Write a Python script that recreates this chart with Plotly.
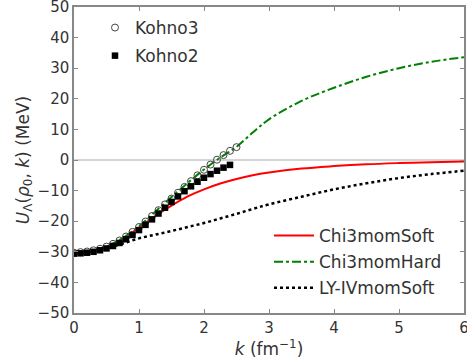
import plotly.graph_objects as go

# Line curves
k_line = [0, 0.25, 0.5, 0.75, 1.0, 1.25, 1.5, 1.75, 2.0, 2.25, 2.5, 2.75, 3.0, 3.5, 4.0, 4.5, 5.0, 5.5, 6.0]
chi3_soft = [-30.4, -30.0, -28.5, -25.8, -22.1, -18.3, -14.9, -11.9, -9.6, -7.7, -6.2, -5.0, -4.1, -2.8, -2.0, -1.4, -1.0, -0.7, -0.5]
chi3_hard = [-30.4, -29.9, -28.3, -25.5, -21.6, -16.9, -12.1, -7.5, -3.1, 0.8, 4.3, 9.0, 13.3, 19.3, 23.6, 27.2, 30.0, 32.1, 33.6]
lyiv_soft = [-30.4, -30.0, -28.9, -27.3, -25.6, -24.4, -23.2, -21.9, -20.6, -19.1, -17.6, -16.0, -14.5, -12.0, -9.6, -7.6, -5.9, -4.6, -3.5]

# Kohno points
k_kohno3 = [0.0, 0.1, 0.2, 0.3, 0.4, 0.5, 0.6, 0.7, 0.8, 0.9, 1.0, 1.1, 1.2, 1.3, 1.4, 1.5, 1.6, 1.7, 1.8, 1.9, 2.0, 2.1, 2.2, 2.3, 2.4, 2.5]
kohno3 = [-30.3, -30.1, -29.9, -29.5, -29.0, -28.3, -27.4, -26.3, -25.0, -23.5, -21.9, -20.1, -18.3, -16.4, -14.5, -12.6, -10.7, -8.8, -6.9, -5.0, -3.2, -1.5, 0.1, 1.6, 3.0, 4.2]
k_kohno2 = [0.0, 0.1, 0.2, 0.3, 0.4, 0.5, 0.6, 0.7, 0.8, 0.9, 1.0, 1.1, 1.2, 1.3, 1.4, 1.5, 1.6, 1.7, 1.8, 1.9, 2.0, 2.1, 2.2, 2.3, 2.4]
kohno2 = [-30.6, -30.5, -30.3, -30.0, -29.5, -28.9, -28.1, -27.1, -25.9, -24.5, -22.9, -21.2, -19.4, -17.5, -15.6, -13.7, -11.9, -10.2, -8.6, -7.1, -5.8, -4.6, -3.5, -2.5, -1.6]

x_ticks = [0, 1, 2, 3, 4, 5, 6]
y_ticks = [-50, -40, -30, -20, -10, 0, 10, 20, 30, 40, 50]

FONT = "DejaVu Sans"
TXT = "#333333"
fig = go.Figure()

fig.add_hline(y=0, line=dict(color="#aaaaaa", width=1), layer="below")

fig.add_trace(go.Scatter(x=k_line, y=chi3_soft, mode="lines", name="Chi3momSoft", legendgroup="a",
                         line=dict(color="#ff0000", width=2, shape="spline"), legend="legend2"))
fig.add_trace(go.Scatter(x=k_line, y=chi3_hard, mode="lines", name="Chi3momHard", legendgroup="b",
                         line=dict(color="#008000", width=2, dash="dashdot", shape="spline"), legend="legend2"))
fig.add_trace(go.Scatter(x=k_line, y=lyiv_soft, mode="lines", name="LY-IVmomSoft", legendgroup="c",
                         line=dict(color="#000000", width=2.5, dash="dot", shape="spline"), legend="legend2"))

fig.add_trace(go.Scatter(x=k_kohno3, y=kohno3, mode="markers", name="Kohno3", legendgroup="d",
                         marker=dict(symbol="circle-open", size=7, color="#444444", line=dict(width=1)),
                         legend="legend"))
fig.add_trace(go.Scatter(x=k_kohno2, y=kohno2, mode="markers", name="Kohno2", legendgroup="e",
                         marker=dict(symbol="square", size=6.5, color="#000000"),
                         legend="legend"))

axis_common = dict(showgrid=False, zeroline=False, showline=True, linecolor="#888888", linewidth=1.5,
                   mirror="ticks", ticks="inside", ticklen=4, tickcolor="#888888", automargin=False,
                   ticklabeloverflow="allow",
                   tickfont=dict(family=FONT, size=15, color=TXT))

fig.update_layout(
    width=467, height=361,
    margin=dict(l=74, r=3, t=7, b=48, autoexpand=False),
    paper_bgcolor="white", plot_bgcolor="white",
    font=dict(family=FONT, size=15, color=TXT),
    xaxis=dict(range=[0, 6], tickvals=x_ticks,
               title=dict(text="<i>k</i> (fm<sup>−1</sup>)", font=dict(family=FONT, size=17, color=TXT), standoff=0),
               **axis_common),
    yaxis=dict(range=[-50, 50], tickvals=y_ticks,
               title=dict(text="<i>U</i><sub>Λ</sub>(<i>ρ</i><sub>0</sub>, <i>k</i>) (MeV)", font=dict(family=FONT, size=17, color=TXT), standoff=4),
               **axis_common),
    legend=dict(x=(95 - 74) / 390, y=(313 - 10) / 306, xanchor="left", yanchor="top", bgcolor="rgba(0,0,0,0)",
                font=dict(family=FONT, size=17, color=TXT), itemwidth=30, tracegroupgap=3,
                traceorder="grouped"),
    legend2=dict(x=(269 - 74) / 390, y=(313 - 218) / 306, xanchor="left", yanchor="top", bgcolor="rgba(0,0,0,0)",
                 font=dict(family=FONT, size=17, color=TXT), itemwidth=40, tracegroupgap=1,
                 traceorder="grouped"),
    showlegend=True,
)

fig.write_html("out.html", config={"displayModeBar": False},
               post_script="document.body.style.margin='0';document.body.style.padding='0';")
